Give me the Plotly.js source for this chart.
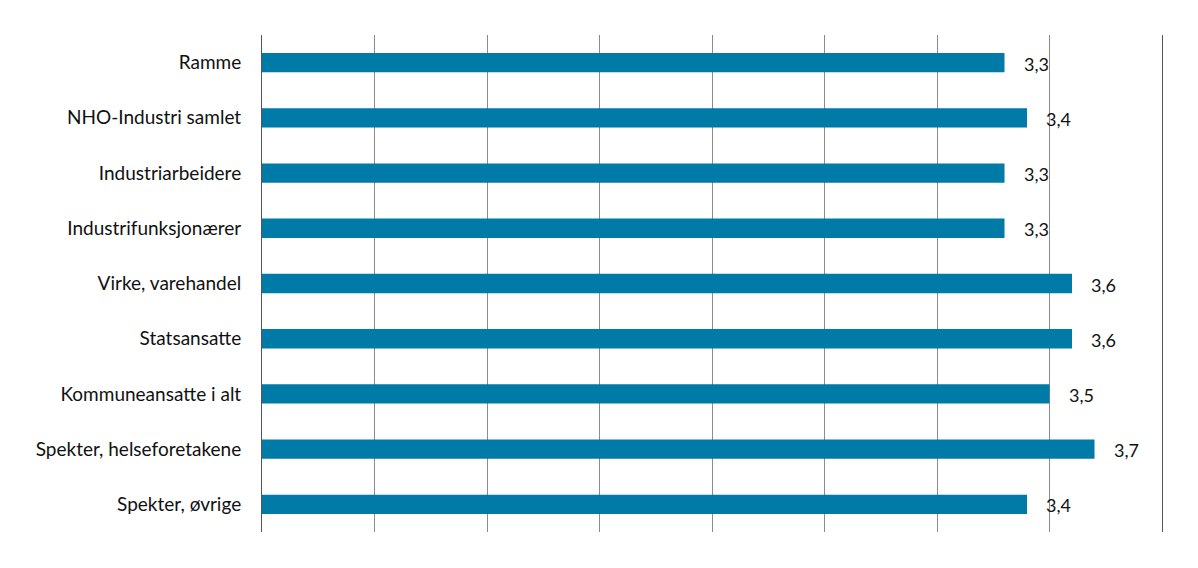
<!DOCTYPE html>
<html>
<head>
<meta charset="utf-8">
<script src="https://cdn.plot.ly/plotly-3.0.1.min.js"></script>
<style>
  html, body { margin: 0; padding: 0; background: #fff; }
  #chart { width: 1198px; height: 568px; }
</style>
</head>
<body>
<div id="chart"></div>
<script>
var categories = [
    'Ramme',
    'NHO-Industri samlet',
    'Industriarbeidere',
    'Industrifunksjonærer',
    'Virke, varehandel',
    'Statsansatte',
    'Kommuneansatte i alt',
    'Spekter, helseforetakene',
    'Spekter, øvrige'
];
var values = [3.3, 3.4, 3.3, 3.3, 3.6, 3.6, 3.5, 3.7, 3.4];

function drawChart(){
    var labels = values.map(function(v){ return v.toFixed(1).replace('.', ','); });

    var trace = {
        x: values,
        y: categories,
        type: 'bar',
        orientation: 'h',
        width: 0.35,
        marker: { color: '#007aa6' },
        hoverinfo: 'none'
    };

    var notes = [];
    for(let i = 0; i < values.length; i++){
        notes.push({
            x: values[i],
            y: categories[i],
            text: labels[i],
            showarrow: false,
            xanchor: 'left',
            xshift: 17,
            yshift: -1,
            font: { family: 'Lato, sans-serif', size: 18, color: '#111' }
        });
    }

    var layout = {
        width: 1198,
        height: 568,
        margin: { l: 262, r: 36, t: 35, b: 36 },
        paper_bgcolor: '#fff',
        plot_bgcolor: '#fff',
        showlegend: false,
        xaxis: {
            range: [0, 4],
            dtick: 0.5,
            showticklabels: false,
            showgrid: true,
            gridcolor: '#8c8c8c',
            gridwidth: 1,
            zeroline: false,
            fixedrange: true
        },
        yaxis: {
            autorange: 'reversed',
            showgrid: false,
            showline: true,
            mirror: true,
            linecolor: '#555',
            linewidth: 1,
            ticks: 'outside',
            ticklen: 16,
            tickcolor: 'rgba(0,0,0,0)',
            tickfont: { family: 'Lato, sans-serif', size: 19, color: '#111' },
            fixedrange: true
        },
        annotations: notes
    };

    Plotly.newPlot('chart', [trace], layout, { displayModeBar: false, staticPlot: true });
}

drawChart();
</script>
</body>
</html>
